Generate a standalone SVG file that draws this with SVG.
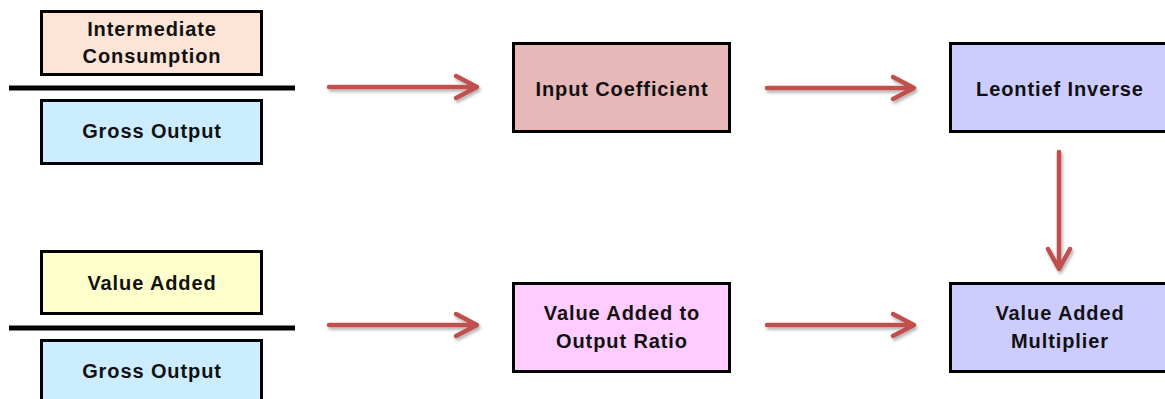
<svg xmlns="http://www.w3.org/2000/svg" width="1165" height="399" viewBox="0 0 1165 399">
<defs>
<style>
.box{stroke:#000;stroke-width:3}
.t{font-family:"Liberation Sans",Arial,sans-serif;font-weight:bold;font-size:20px;fill:#111;text-anchor:middle;letter-spacing:0.9px}
.bar{stroke:#000;stroke-width:5}
.conn{stroke:#c0504d;stroke-width:4.5;fill:none;stroke-linecap:round;stroke-linejoin:round}
</style>
<filter id="sh" x="-20%" y="-50%" width="140%" height="200%">
<feDropShadow dx="1.5" dy="2.5" stdDeviation="1.5" flood-color="#000" flood-opacity="0.3"/>
</filter>
</defs>
<g id="divider-top"><line class="bar" x1="9" y1="88" x2="295" y2="88"/></g>
<g id="divider-bottom"><line class="bar" x1="9" y1="328" x2="295" y2="328"/></g>
<g id="intermediate-consumption">
<rect class="box" x="41.5" y="11.5" width="220" height="63" fill="#fce4d6"/>
<text class="t" x="152" y="36">Intermediate</text>
<text class="t" x="152" y="63">Consumption</text>
</g>
<g id="gross-output-1">
<rect class="box" x="41.5" y="100.5" width="220" height="63" fill="#ccecff"/>
<text class="t" x="152" y="138">Gross Output</text>
</g>
<g id="value-added">
<rect class="box" x="41.5" y="251.5" width="220" height="62" fill="#ffffcc"/>
<text class="t" x="152" y="290">Value Added</text>
</g>
<g id="gross-output-2">
<rect class="box" x="41.5" y="340.5" width="220" height="63" fill="#ccecff"/>
<text class="t" x="152" y="378">Gross Output</text>
</g>
<g id="input-coefficient">
<rect class="box" x="513.5" y="43.5" width="216" height="88" fill="#e6b8b7"/>
<text class="t" x="622" y="96">Input Coefficient</text>
</g>
<g id="leontief-inverse">
<rect class="box" x="950.5" y="43.5" width="220" height="88" fill="#ccccff"/>
<text class="t" x="1060" y="96">Leontief Inverse</text>
</g>
<g id="va-output-ratio">
<rect class="box" x="513.5" y="283.5" width="216" height="88" fill="#ffccff"/>
<text class="t" x="622" y="320">Value Added to</text>
<text class="t" x="622" y="348">Output Ratio</text>
</g>
<g id="va-multiplier">
<rect class="box" x="950.5" y="283.5" width="220" height="88" fill="#ccccff"/>
<text class="t" x="1060" y="320">Value Added</text>
<text class="t" x="1060" y="348">Multiplier</text>
</g>
<g id="connectors" filter="url(#sh)">
<path class="conn" d="M329,87 H475 M456,76 L477,87 L456,98"/>
<path class="conn" d="M767,88 H912 M893,77 L914,88 L893,99"/>
<path class="conn" d="M1059,152 V267 M1048,249 L1059,269 L1070,249"/>
<path class="conn" d="M329,325 H475 M456,314 L477,325 L456,336"/>
<path class="conn" d="M767,325 H912 M893,314 L914,325 L893,336"/>
</g>
</svg>
